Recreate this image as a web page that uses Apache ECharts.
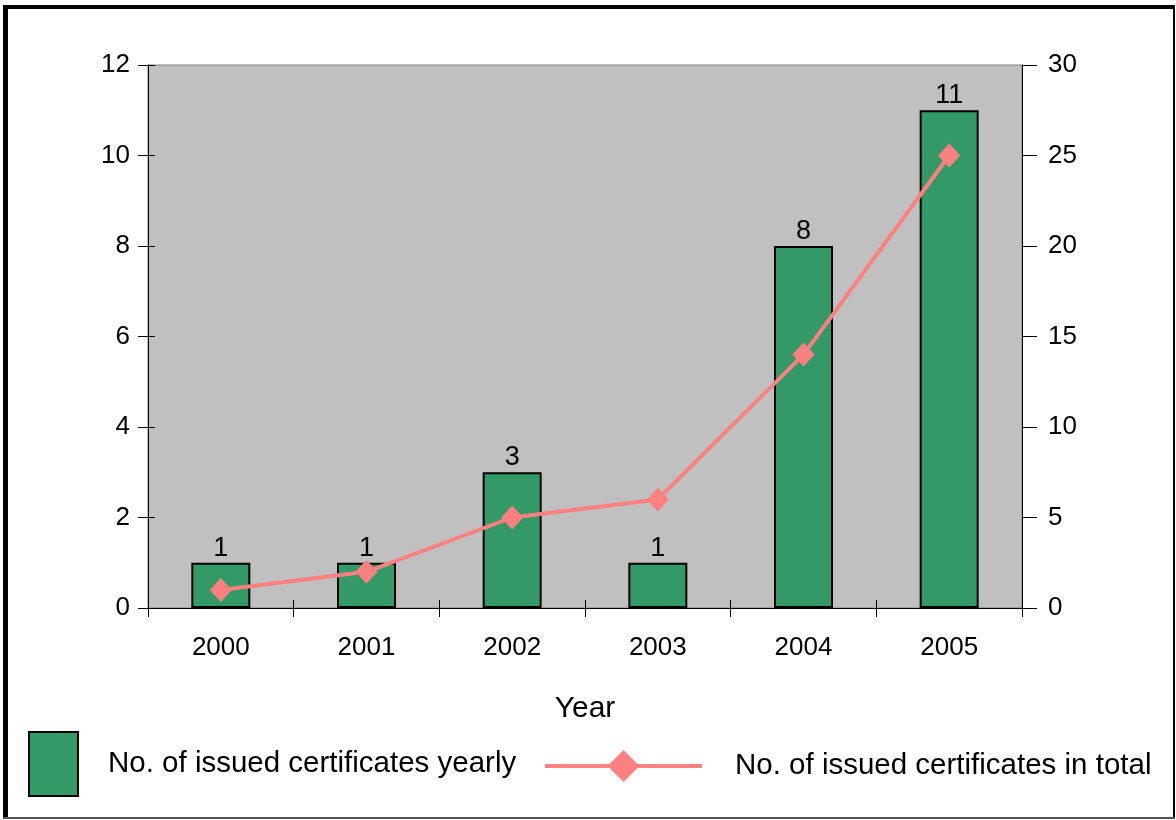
<!DOCTYPE html>
<html>
<head>
<meta charset="utf-8">
<title>Issued certificates</title>
<script src="https://cdn.jsdelivr.net/npm/echarts@6/dist/echarts.min.js"></script>
<style>
    html, body { margin: 0; padding: 0; background: #fff; }
    #main { width: 1176px; height: 820px; }
</style>
</head>
<body>
<div id="main"></div>
<script>
var years = ['2000', '2001', '2002', '2003', '2004', '2005'];
var yearlyCerts = [1, 1, 3, 1, 8, 11];
var totalCerts = [1, 2, 5, 6, 14, 25];
var leftAxis = { min: 0, max: 12, step: 2 };
var rightAxis = { min: 0, max: 30, step: 5 };
var yearlyName = 'No. of issued certificates yearly';
var totalName = 'No. of issued certificates in total';

var FONT = '"Liberation Sans", Arial, sans-serif';

function drawChart() {
    var myChart = echarts.init(document.getElementById('main'), null, { renderer: 'canvas' });
    var option = {
        backgroundColor: '#fff',
        textStyle: { fontFamily: FONT, color: '#000' },
        animation: false,
        grid: {
            left: 148,
            right: 154,
            top: 65,
            bottom: 212,
            show: true,
            backgroundColor: '#C0C0C0',
            borderColor: '#808080',
            borderWidth: 1
        },
        legend: [
            {
                data: [{ name: yearlyName, icon: 'rect' }],
                left: 28,
                top: 731,
                padding: 0,
                itemWidth: 49,
                itemHeight: 64,
                textStyle: { fontSize: 29.5, color: '#000', fontFamily: FONT, padding: [8, 0, 0, 25] }
            },
            {
                data: [totalName],
                left: 543,
                top: 750,
                padding: 0,
                itemWidth: 157,
                itemHeight: 40,
                lineStyle: { width: 4, color: '#FF8080' },
                textStyle: { fontSize: 29.5, color: '#000', fontFamily: FONT, padding: [0, 0, 18, 28] }
            }
        ],
        xAxis: [
            {
                type: 'category',
                data: years,
                position: 'bottom',
                name: 'Year',
                nameLocation: 'middle',
                nameGap: 86,
                nameTextStyle: { fontSize: 30, color: '#000', fontFamily: FONT },
                axisLine: { lineStyle: { color: '#000', width: 1 } },
                axisTick: { show: true, length: 9, lineStyle: { color: '#000' } },
                axisLabel: { fontSize: 26, color: '#000', margin: 27, fontFamily: FONT }
            },
            {
                // inside half of the crossing ticks
                type: 'category',
                data: years,
                position: 'bottom',
                axisLine: { show: false },
                axisTick: { show: true, inside: true, length: 8, lineStyle: { color: '#000' } },
                axisLabel: { show: false }
            }
        ],
        yAxis: [
            {
                type: 'value',
                position: 'left',
                min: leftAxis.min,
                max: leftAxis.max,
                interval: leftAxis.step,
                splitLine: { show: false },
                axisLine: { show: true, lineStyle: { color: '#000' } },
                axisTick: { show: true, length: 10, lineStyle: { color: '#000' } },
                axisLabel: { fontSize: 26, color: '#000', margin: 18, fontFamily: FONT }
            },
            {
                type: 'value',
                position: 'right',
                min: rightAxis.min,
                max: rightAxis.max,
                interval: rightAxis.step,
                splitLine: { show: false },
                axisLine: { show: true, lineStyle: { color: '#000' } },
                axisTick: { show: true, length: 15, lineStyle: { color: '#000' } },
                axisLabel: { fontSize: 26, color: '#000', margin: 26, fontFamily: FONT }
            },
            {
                type: 'value',
                position: 'left',
                min: leftAxis.min,
                max: leftAxis.max,
                interval: leftAxis.step,
                splitLine: { show: false },
                axisLine: { show: false },
                axisTick: { show: true, inside: true, length: 7, lineStyle: { color: '#000' } },
                axisLabel: { show: false }
            }
        ],
        series: [
            {
                name: yearlyName,
                type: 'bar',
                xAxisIndex: 0,
                yAxisIndex: 0,
                barWidth: 59,
                data: yearlyCerts,
                itemStyle: { color: '#339966', borderColor: '#000', borderWidth: 2 },
                label: {
                    show: true,
                    position: 'top',
                    distance: 1,
                    fontSize: 27,
                    color: '#000',
                    fontFamily: FONT
                },
                z: 2
            },
            {
                name: totalName,
                type: 'line',
                xAxisIndex: 0,
                yAxisIndex: 1,
                data: totalCerts,
                symbol: 'diamond',
                symbolSize: [22, 24],
                showAllSymbol: true,
                lineStyle: { color: '#FF8080', width: 4 },
                itemStyle: { color: '#FF8080' },
                z: 3
            }
        ],
        graphic: [
            // outer frame
            { type: 'rect', silent: true, shape: { x: 3, y: 5, width: 1172, height: 4 }, style: { fill: '#000' } },
            { type: 'rect', silent: true, shape: { x: 3, y: 5, width: 5, height: 814 }, style: { fill: '#000' } },
            { type: 'rect', silent: true, shape: { x: 1173, y: 5, width: 2, height: 814 }, style: { fill: '#000' } },
            { type: 'rect', silent: true, shape: { x: 3, y: 817, width: 1172, height: 2 }, style: { fill: '#555' } }
        ]
    };
    myChart.setOption(option);
}

drawChart();
</script>
</body>
</html>
